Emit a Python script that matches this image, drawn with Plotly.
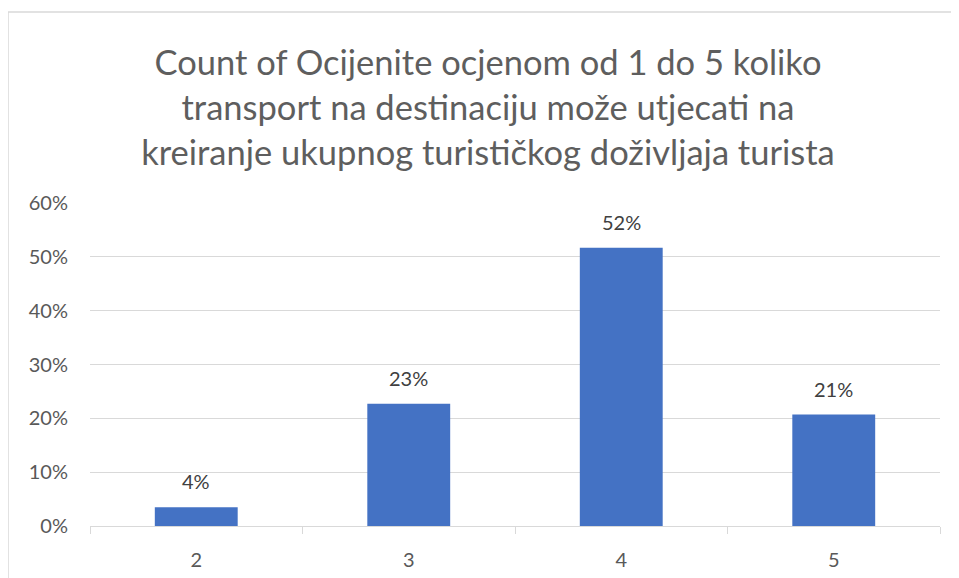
import plotly.graph_objects as go

categories = ["2", "3", "4", "5"]
values = [0.035, 0.227, 0.517, 0.207]
labels = ["4%", "23%", "52%", "21%"]
title_lines = [
    "Count of Ocijenite ocjenom od 1 do 5 koliko",
    "transport na destinaciju može utjecati na",
    "kreiranje ukupnog turističkog doživljaja turista",
]

# page body has an 8px margin; figure is sized to fill the window
OFF = 8
W, H = 959 - OFF, 578 - OFF
L, R, T, B = 90 - OFF, 19, 203 - OFF, 52
pw, ph = W - L - R, H - T - B

fig = go.Figure(go.Bar(
    x=categories, y=values,
    marker=dict(color="#4472C4", line=dict(width=0)),
    width=0.39,
))

for i, (v, t) in enumerate(zip(values, labels)):
    fig.add_annotation(x=i, y=v, xref="x", yref="y", text=t, showarrow=False,
                       yanchor="middle", yshift=26,
                       font=dict(size=20, color="#404040", family="Lato"))

def px_x(x):
    return (x - OFF - L) / pw

def px_y(y):
    return (H - B - (y - OFF)) / ph

fig.update_layout(
    width=W, height=H,
    margin=dict(l=L, r=R, t=T, b=B, autoexpand=False),
    paper_bgcolor="white", plot_bgcolor="white",
    font=dict(family="Lato", color="#595959"),
    title=dict(text="<br>".join(title_lines), x=(488 - OFF) / W, xanchor="center",
               y=1 - (75 - OFF) / H, yanchor="middle",
               font=dict(size=34.5, color="#5E5E5E", family="Lato")),
    showlegend=False,
    yaxis=dict(range=[0, 0.6], tickvals=[0, 0.1, 0.2, 0.3, 0.4, 0.5, 0.6],
               tickformat=".0%", showgrid=True, gridcolor="#D9D9D9", gridwidth=1,
               zeroline=False, showline=False, ticks="", automargin=False,
               tickfont=dict(size=20, color="#595959"), ticklabelstandoff=21),
    xaxis=dict(type="category", range=[-0.5, 3.5], automargin=False,
               showline=True, linecolor="#D9D9D9", linewidth=1,
               ticks="outside", tickson="boundaries", ticklen=7, tickcolor="#D9D9D9",
               tickfont=dict(size=20, color="#595959"), ticklabelstandoff=16),
    shapes=[
        dict(type="line", xref="paper", yref="paper", x0=px_x(8), x1=px_x(8),
             y0=px_y(12), y1=px_y(600), line=dict(color="#D9D9D9", width=1.5)),
        dict(type="line", xref="paper", yref="paper", x0=px_x(8), x1=px_x(980),
             y0=px_y(12), y1=px_y(12), line=dict(color="#D9D9D9", width=1.5)),
    ],
)

fig.write_html("out.html")
